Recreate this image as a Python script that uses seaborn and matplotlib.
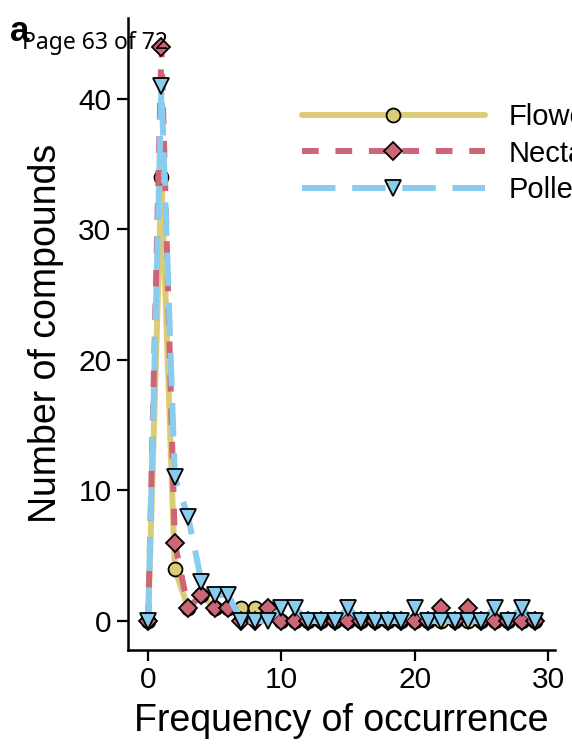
import numpy as np
import pandas as pd
import matplotlib
matplotlib.use("Agg")
import matplotlib.pyplot as plt
import seaborn as sns

freq = list(range(30))
flower = [0, 34, 4, 1, 2, 1, 1, 1, 1, 1, 0, 0, 0, 0, 0, 0, 0, 0, 0, 0, 0, 0, 0, 0, 0, 0, 0, 0, 0, 0]
nectar = [0, 44, 6, 1, 2, 1, 1, 0, 0, 1, 0, 0, 0, 0, 0, 0, 0, 0, 0, 0, 0, 0, 1, 0, 1, 0, 0, 0, 0, 0]
pollen = [0, 41, 11, 8, 3, 2, 2, 0, 0, 0, 1, 1, 0, 0, 0, 1, 0, 0, 0, 0, 1, 0, 0, 0, 0, 0, 1, 0, 1, 0]
series_names = ["Flower", "Nectar", "Pollen"]
xticks = [0, 10, 20, 30]
yticks = [0, 10, 20, 30, 40]

sns.set_style("ticks")
plt.rcParams['font.family'] = ['Liberation Sans', 'DejaVu Sans']
plt.rcParams['text.color'] = 'black'
plt.rcParams['axes.labelcolor'] = 'black'
plt.rcParams['xtick.color'] = 'black'
plt.rcParams['ytick.color'] = 'black'

fig = plt.figure(figsize=(5.72, 7.46), dpi=100)
ax = fig.add_axes([0.224, 0.129, 0.746, 0.847])

colors = ["#DDCC77", "#CC6677", "#88CCEE"]
markers = ["o", "D", "v"]
msizes = [10, 9, 11]
dashes = [(None, None), (2.8, 2.8), (5.6, 2.8)]
data = [flower, nectar, pollen]

for name, vals, c, m, ms, d in zip(series_names, data, colors, markers, msizes, dashes):
    df = pd.DataFrame({"x": freq, "y": vals})
    sns.lineplot(data=df, x="x", y="y", ax=ax, color=c, lw=4.3, marker=m,
                 markersize=ms, markeredgecolor="black", markeredgewidth=1.3,
                 markerfacecolor=c, label=name)
    line = ax.get_lines()[-1]
    if d[0] is not None:
        line.set_dashes(d)

ax.set_xlim(-1.5, 30.5)
ax.set_ylim(-2.2, 46.2)
ax.set_xticks(xticks)
ax.set_yticks(yticks)
ax.tick_params(labelsize=21.5, width=1.6, length=8, direction='out', color='black', pad=4)
for s in ["left", "bottom"]:
    ax.spines[s].set_linewidth(1.8)
    ax.spines[s].set_color("black")
sns.despine(ax=ax)
ax.set_xlabel("Frequency of occurrence", fontsize=27, labelpad=6)
ax.set_ylabel("Number of compounds", fontsize=27, labelpad=10)

leg = ax.legend(loc="upper left", bbox_to_anchor=(0.345, 0.907), frameon=False,
                fontsize=21, handlelength=6.3, handletextpad=0.8, labelspacing=0.3)

fig.text(0.017, 0.958, "a", fontsize=25, fontweight="bold", ha="left", va="center")
fig.text(0.038, 0.943, "Page 63 of 72", fontsize=16.5, family=["Noto Sans", "DejaVu Sans"],
         ha="left", va="center")

fig.savefig("out.png", dpi=100)
